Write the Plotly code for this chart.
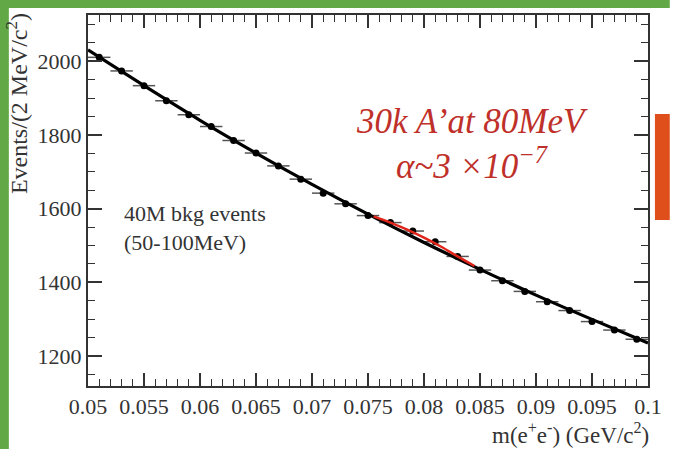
import plotly.graph_objects as go

# data
bin_centers = [0.051, 0.053, 0.055, 0.057, 0.059, 0.061, 0.063, 0.065, 0.067, 0.069,
               0.071, 0.073, 0.075, 0.077, 0.079, 0.081, 0.083, 0.085, 0.087, 0.089,
               0.091, 0.093, 0.095, 0.097, 0.099]
events = [2011, 1974, 1934, 1893, 1855, 1823, 1785, 1751, 1716, 1680,
          1642, 1613, 1581, 1562, 1539, 1510, 1470, 1433, 1404, 1375,
          1347, 1323, 1293, 1270, 1245]
bin_half_width = 0.001

fit_x = [0.050, 0.055, 0.060, 0.065, 0.070, 0.075, 0.080, 0.085, 0.090, 0.095, 0.100]
fit_y = [2031, 1934, 1840, 1751, 1666, 1585, 1508, 1435, 1365, 1299, 1235]

sig_x = [0.0755, 0.077, 0.0785, 0.080, 0.0815, 0.083, 0.0845]
sig_y = [1579, 1562, 1543, 1521, 1497, 1470, 1444]

x_tickvals = [0.05, 0.055, 0.06, 0.065, 0.07, 0.075, 0.08, 0.085, 0.09, 0.095, 0.1]
x_ticktext = ["0.05", "0.055", "0.06", "0.065", "0.07", "0.075", "0.08", "0.085", "0.09", "0.095", "0.1"]
y_tickvals = [1200, 1400, 1600, 1800, 2000]

SERIF = "Liberation Serif, Times New Roman, serif"
TXT = "#333333"

fig = go.Figure()

fig.add_trace(go.Scatter(
    x=bin_centers, y=events, mode="markers",
    marker=dict(color="black", size=7),
    error_x=dict(type="constant", value=bin_half_width, color="#555555", thickness=1.5, width=0),
    showlegend=False, hoverinfo="skip"))

fig.add_trace(go.Scatter(
    x=fit_x, y=fit_y, mode="lines", line=dict(color="black", width=3.2, shape="spline"),
    showlegend=False, hoverinfo="skip"))

fig.add_trace(go.Scatter(
    x=sig_x, y=sig_y, mode="lines", line=dict(color="#e0261b", width=2.5, shape="spline"),
    showlegend=False, hoverinfo="skip"))

axis_common = dict(
    showgrid=False, zeroline=False, showline=True, linecolor=TXT, linewidth=2,
    mirror="ticks", ticks="inside", tickcolor=TXT, tickwidth=1.5,
    tickfont=dict(family=SERIF, size=22, color=TXT),
)

fig.update_xaxes(
    range=[0.05, 0.1], tickvals=x_tickvals, ticktext=x_ticktext, ticklen=13,
    minor=dict(dtick=0.001, ticks="inside", ticklen=7, tickcolor=TXT, tickwidth=1.2),
    **axis_common)
fig.update_yaxes(
    range=[1118, 2126], tickvals=y_tickvals, ticklen=14,
    minor=dict(dtick=50, tick0=1200, ticks="inside", ticklen=7, tickcolor=TXT, tickwidth=1.2),
    **axis_common)

annotations = [
    dict(text="40M bkg events<br>(50-100MeV)", x=0.053, y=1546, xref="x", yref="y",
         xanchor="left", yanchor="middle", align="left", showarrow=False,
         font=dict(family=SERIF, size=22, color=TXT)),
    dict(text="<i>30k A’at 80MeV</i>", x=0.0843, y=1838, xref="x", yref="y",
         xanchor="center", yanchor="middle", showarrow=False,
         font=dict(family=SERIF, size=35, color="#c0302a")),
    dict(text="<i>α~3 ×10<sup>−7</sup></i>", x=0.0843, y=1722, xref="x", yref="y",
         xanchor="center", yanchor="middle", showarrow=False,
         font=dict(family=SERIF, size=35, color="#c0302a")),
    dict(text="m(e<sup>+</sup>e<sup>-</sup>) (GeV/c<sup>2</sup>)", x=1.005, y=-0.127,
         xref="paper", yref="paper", xanchor="right", yanchor="middle", showarrow=False,
         font=dict(family=SERIF, size=23, color=TXT)),
    dict(text="Events/(2 MeV/c<sup>2</sup>)", x=-0.128, y=1.01, xref="paper", yref="paper",
         xanchor="center", yanchor="top", textangle=-90, showarrow=False,
         font=dict(family=SERIF, size=24, color=TXT)),
]

W, H = 674, 449
L, R, T, B = 88, 20, 15, 63
pw, ph = W - L - R, H - T - B

def px_to_paper_x(px):
    return (px - L) / pw

def px_to_paper_y(py):
    return (H - B - py) / ph

green = "#62a846"
shapes = [
    dict(type="rect", xref="paper", yref="paper", layer="above", line=dict(width=0), fillcolor=green,
         x0=px_to_paper_x(-2), x1=px_to_paper_x(8), y0=px_to_paper_y(H + 2), y1=px_to_paper_y(-2)),
    dict(type="rect", xref="paper", yref="paper", layer="above", line=dict(width=0), fillcolor=green,
         x0=px_to_paper_x(-2), x1=px_to_paper_x(W + 2), y0=px_to_paper_y(8), y1=px_to_paper_y(-2)),
    dict(type="rect", xref="paper", yref="paper", layer="above", line=dict(width=0), fillcolor="#df4f1c",
         x0=px_to_paper_x(661), x1=px_to_paper_x(W + 2), y0=px_to_paper_y(220), y1=px_to_paper_y(114)),
]

fig.update_layout(
    width=W, height=H, margin=dict(l=L, r=R, t=T, b=B),
    paper_bgcolor="white", plot_bgcolor="white",
    annotations=annotations, shapes=shapes,
)

fig.write_html("out.html")
